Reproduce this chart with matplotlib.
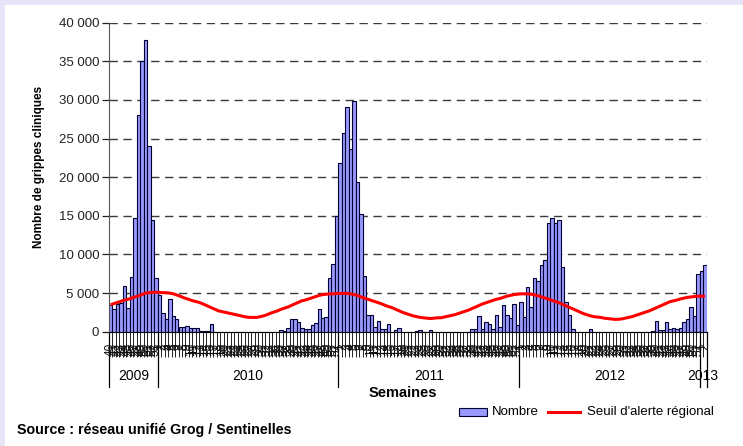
import matplotlib
matplotlib.use("Agg")
import matplotlib.pyplot as plt
import matplotlib.patches as patches
from matplotlib.lines import Line2D
from matplotlib.transforms import blended_transform_factory
import numpy as np

plt.rcParams['font.family'] = ['Liberation Sans', 'DejaVu Sans']

W, H = 743, 446

# ---- data : weekly counts (réseau Grog / Sentinelles) ----
years = [2009, 2010, 2011, 2012, 2013]
first_week = [40, 1, 1, 1, 1]

cases_2009 = [3450, 2900, 3600, 3750, 5900, 3100, 7100, 14700, 28100, 35000,
              37700, 24000, 14400, 6900]
cases_2010 = [4700, 2400, 1600, 4200, 2000, 1700, 650, 550, 800, 450,
              450, 450, 130, 130, 130, 950, 0, 0, 0, 0,
              0, 0, 0, 0, 0, 0, 0, 0, 0, 0,
              0, 0, 0, 0, 0, 200, 100, 450, 1700, 1700,
              1250, 500, 300, 400, 900, 1100, 2900, 1800, 1900, 6900,
              8750, 15000]
cases_2011 = [21900, 25700, 29100, 23700, 29900, 19400, 15300, 7200, 2100, 2200,
              650, 1400, 400, 300, 950, 0, 200, 450, 0, 0,
              0, 0, 100, 250, 0, 0, 250, 0, 0, 0,
              0, 0, 0, 0, 0, 0, 0, 0, 350, 350,
              2000, 350, 1300, 1000, 300, 2100, 600, 3500, 2100, 1800,
              3650, 850]
cases_2012 = [3800, 1850, 5800, 3150, 7000, 6600, 8600, 9300, 14100, 14700,
              14100, 14400, 8400, 3800, 2200, 400, 0, 0, 0, 0,
              400, 0, 0, 0, 0, 0, 0, 0, 0, 0,
              0, 0, 0, 0, 0, 0, 0, 0, 150, 1400,
              200, 200, 1200, 350, 450, 300, 450, 1200, 1600, 3250,
              2000, 7500]
cases_2013 = [7900, 8600]

# seuil d'alerte régional
seuil_2009 = [3500, 3650, 3800, 3950, 4100, 4200, 4350, 4500, 4650, 4800,
              5000, 5050, 5100, 5100]
seuil_2010 = [5100, 5050, 5050, 5000, 4900, 4750, 4600, 4400, 4250, 4100,
              3950, 3850, 3700, 3500, 3300, 3100, 2900, 2700, 2600, 2500,
              2400, 2300, 2200, 2100, 2000, 1900, 1850, 1850, 1850, 1950,
              2050, 2200, 2400, 2550, 2700, 2900, 3050, 3200, 3400, 3600,
              3800, 4000, 4100, 4250, 4400, 4550, 4700, 4800, 4850, 4900,
              4900, 4950]
seuil_2011 = [4950, 4950, 4950, 4900, 4800, 4700, 4500, 4350, 4200, 4050,
              3900, 3750, 3600, 3400, 3250, 3100, 2900, 2700, 2500, 2350,
              2200, 2050, 1950, 1850, 1800, 1750, 1700, 1750, 1800, 1800,
              1900, 2000, 2100, 2200, 2350, 2500, 2650, 2800, 3000, 3200,
              3400, 3600, 3750, 3900, 4050, 4200, 4300, 4450, 4600, 4700,
              4800, 4850]
seuil_2012 = [4900, 4900, 4900, 4850, 4750, 4650, 4500, 4350, 4200, 4050,
              3900, 3750, 3550, 3350, 3150, 2950, 2750, 2550, 2350, 2200,
              2050, 1950, 1900, 1850, 1750, 1700, 1650, 1600, 1600, 1650,
              1750, 1850, 1950, 2100, 2250, 2400, 2550, 2700, 2900, 3100,
              3300, 3500, 3700, 3900, 4000, 4100, 4250, 4350, 4450, 4500,
              4550, 4600]
seuil_2013 = [4600, 4600]

cases_by_year = [cases_2009, cases_2010, cases_2011, cases_2012, cases_2013]
seuil_by_year = [seuil_2009, seuil_2010, seuil_2011, seuil_2012, seuil_2013]

cases = np.concatenate(cases_by_year)
seuil = np.concatenate(seuil_by_year)
week_labels = []
for fw, c in zip(first_week, cases_by_year):
    week_labels += [str(fw + k) for k in range(len(c))]
n = len(cases)
x = np.arange(n)

BAR_COLOR = '#9999FF'
EDGE_COLOR = '#000033'

fig = plt.figure(figsize=(W / 100, H / 100), dpi=100, facecolor='#E6E4F7')
# white page inside the lavender frame
fig.patches.append(patches.Rectangle((5 / W, 0), 1 - 5 / W, 1 - 5 / H,
                                     transform=fig.transFigure,
                                     facecolor='white', edgecolor='none',
                                     zorder=-10))

ax_left, ax_right = 109, 706.7
ax_top, ax_bottom = 22.7, 331.7
ax = fig.add_axes([ax_left / W, 1 - ax_bottom / H,
                   (ax_right - ax_left) / W, (ax_bottom - ax_top) / H])
ax.set_facecolor('none')
ax_h = ax_bottom - ax_top

# ---- bars and threshold ----
ax.bar(x, cases, width=1.0, color=BAR_COLOR, edgecolor=EDGE_COLOR,
       linewidth=0.8, zorder=2)
ax.plot(x, seuil, color='#FF0000', lw=2.2, zorder=3, solid_capstyle='butt')

ax.set_xlim(-0.5, n - 0.5)
ax.set_ylim(0, 40000)

# ---- y axis ----
yt = np.arange(0, 40001, 5000)
ax.set_yticks(yt)
ax.set_yticklabels([f"{v:,}".replace(",", " ") for v in yt])
ax.tick_params(axis='y', direction='out', length=5, width=0.9, pad=2,
               labelsize=9.5, colors='#222222')
for v in yt[1:]:
    ax.axhline(v, color='#3a3a3a', lw=1.0, ls=(0, (6, 4)), zorder=1)

for s in ['top', 'right']:
    ax.spines[s].set_visible(False)
ax.spines['left'].set_color('#555555')
ax.spines['bottom'].set_color('black')
ax.spines['bottom'].set_zorder(4)

# ---- x axis: one tick per week boundary, labels rotated ----
ax.set_xticks(np.arange(n + 1) - 0.5)
ax.set_xticklabels([])
ax.tick_params(axis='x', direction='out', length=18, width=0.6, color='black')

trans = blended_transform_factory(ax.transData, ax.transAxes)
lab_y = -(343 - ax_bottom) / ax_h
for xi, lab in zip(x, week_labels):
    ax.text(xi, lab_y, lab, transform=trans, rotation=90, fontsize=8.5,
            ha='center', va='top', color='#111111', clip_on=False)

# year separators and year labels
sep_y = -(387 - ax_bottom) / ax_h
year_y = -(376.5 - ax_bottom) / ax_h
start = 0
bounds = [-0.5]
for yr, c in zip(years, cases_by_year):
    end = start + len(c)
    bounds.append(end - 0.5)
    ax.text((start + end - 1) / 2, year_y, str(yr), transform=trans,
            fontsize=10, ha='center', va='center', clip_on=False)
    start = end
for b in bounds:
    ax.add_line(Line2D([b, b], [0, sep_y], transform=trans, color='black',
                       lw=0.9, clip_on=False))

# ---- titles and notes ----
fig.text(39 / W, 1 - 167 / H, 'Nombre de grippes cliniques', rotation=90,
         fontsize=8.5, fontweight='bold', ha='center', va='center')
fig.text(403 / W, 1 - 393 / H, 'Semaines', fontsize=10.5, fontweight='bold',
         ha='center', va='center')
fig.text(17 / W, 1 - 430 / H, 'Source : réseau unifié Grog / Sentinelles',
         fontsize=10.3, fontweight='bold', ha='left', va='center')

# ---- legend ----
ly = 1 - 412 / H
fig.patches.append(patches.Rectangle((459 / W, ly - 4 / H), 28 / W, 8 / H,
                                     transform=fig.transFigure,
                                     facecolor=BAR_COLOR, edgecolor=EDGE_COLOR,
                                     lw=0.8))
fig.text(492 / W, ly, 'Nombre', fontsize=9.5, ha='left', va='center')
fig.lines.append(Line2D([548 / W, 580 / W], [ly, ly], transform=fig.transFigure,
                        color='#FF0000', lw=2.2))
fig.text(714 / W, ly, "Seuil d'alerte régional", fontsize=9.5, ha='right',
         va='center')

fig.savefig('out.png', dpi=100, facecolor=fig.get_facecolor())
